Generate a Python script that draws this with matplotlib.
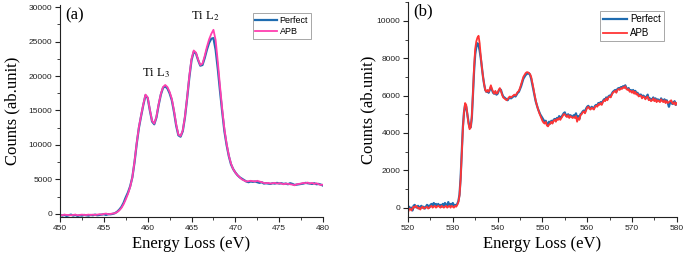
import numpy as np
import matplotlib
matplotlib.use("Agg")
import matplotlib.pyplot as plt
from matplotlib.ticker import MultipleLocator

plt.rcParams['mathtext.fontset'] = 'stix'

# ---------------- Panel (a): Ti L edge ----------------
energy_a = np.arange(450.0, 480.001, 0.25)
perfect_a = [
    -100, -250, -150, -300,   # 450
    -200, -100, -250, -150,   # 451
    -300, -200, -250, -150,   # 452
    -200, -250, -150, -200,   # 453
    -100, -200, -150, -100,   # 454
    -50, -150, -50, -50,      # 455
    0, 100, 300, 600,         # 456
    1000, 1600, 2400, 3100,   # 457
    4000, 5300, 7500, 10200,  # 458
    12500, 14200, 15800, 17200,  # 459
    16800, 15000, 13400, 13000,  # 460
    14000, 15800, 17300, 18300,  # 461
    18500, 18200, 17500, 16500,  # 462
    14800, 12800, 11400, 11200,  # 463
    12000, 14000, 16800, 19800,  # 464
    22300, 23500, 23300, 22300,  # 465
    21500, 21600, 22600, 23800,  # 466
    24800, 25400, 25500, 23800,  # 467
    21000, 17800, 14800, 12000,  # 468
    10000, 8400, 7200, 6500,     # 469
    6000, 5600, 5300, 5100,      # 470
    4900, 4700, 4600, 4700,      # 471
    4650, 4700, 4600, 4500,      # 472
    4600, 4400, 4450, 4400,      # 473
    4350, 4450, 4400, 4500,      # 474
    4400, 4450, 4350, 4400,      # 475
    4300, 4450, 4350, 4200,      # 476
    4250, 4300, 4350, 4400,      # 477
    4500, 4450, 4400, 4350,      # 478
    4450, 4300, 4350, 4250,      # 479
    4100,                        # 480
]
apb_a = [
    -150, -200, -100, -150,   # 450
    -150, -200, -150, -100,   # 451
    -200, -150, -100, -150,   # 452
    -150, -100, -150, -100,   # 453
    -150, -100, -50, -100,    # 454
    0, 50, -50, 0,            # 455
    50, 100, 250, 500,        # 456
    850, 1400, 2100, 2900,    # 457
    3900, 5300, 7600, 10300,  # 458
    12600, 14300, 15900, 17300,  # 459
    16900, 15100, 13500, 13100,  # 460
    14100, 15900, 17400, 18400,  # 461
    18700, 18400, 17700, 16700,  # 462
    15000, 13000, 11500, 11300,  # 463
    12100, 14100, 16900, 20000,  # 464
    22500, 23700, 23400, 22400,  # 465
    21600, 21800, 22900, 24200,  # 466
    25300, 26100, 26700, 25200,  # 467
    22000, 18500, 15200, 12300,  # 468
    10200, 8500, 7300, 6500,     # 469
    6000, 5600, 5300, 5000,      # 470
    4850, 4700, 4750, 4800,      # 471
    4750, 4700, 4800, 4700,      # 472
    4600, 4500, 4450, 4500,      # 473
    4400, 4450, 4500, 4400,      # 474
    4450, 4400, 4300, 4400,      # 475
    4350, 4300, 4250, 4150,      # 476
    4300, 4350, 4400, 4500,      # 477
    4450, 4550, 4400, 4500,      # 478
    4350, 4450, 4300, 4200,      # 479
    4250,                        # 480
]

# ---------------- Panel (b): O K edge ----------------
energy_b = np.arange(520.0, 580.001, 0.25)
perfect_b = [
    -100, 50, -50, 0,         # 520
    -150, 100, 150, 50,       # 521
    0, 100, -50, 50,          # 522
    100, 0, 50, -50,          # 523
    50, 150, 100, 0,          # 524
    150, 200, 100, 250,       # 525
    150, 200, 100, 200,       # 526
    100, 150, 50, 200,        # 527
    100, 250, 150, 100,       # 528
    300, 100, 200, 150,       # 529
    250, 100, 150, 100,       # 530
    200, 350, 700, 1600,      # 531
    3000, 4300, 5100, 5500,   # 532
    5400, 5000, 4600, 4300,   # 533
    4300, 4800, 6000, 7300,   # 534
    8200, 8600, 8800, 8700,   # 535
    8400, 8000, 7500, 7000,   # 536
    6600, 6300, 6200, 6250,   # 537
    6150, 6300, 6450, 6300,   # 538
    6150, 6100, 6200, 6050,   # 539
    6100, 6250, 6350, 6300,   # 540
    6100, 5950, 5900, 5850,   # 541
    5800, 5750, 5850, 5900,   # 542
    5850, 5900, 5950, 6000,   # 543
    5950, 6050, 6150, 6200,   # 544
    6350, 6500, 6700, 6900,   # 545
    7000, 7100, 7150, 7200,   # 546
    7200, 7100, 6900, 6600,   # 547
    6300, 6000, 5700, 5500,   # 548
    5300, 5150, 5000, 4900,   # 549
    4800, 4700, 4600, 4650,   # 550
    4500, 4400, 4600, 4500,   # 551
    4650, 4550, 4700, 4750,   # 552
    4650, 4800, 4750, 4900,   # 553
    4800, 4850, 4950, 5050,   # 554
    5100, 4950, 4900, 5000,   # 555
    4850, 4950, 4900, 4850,   # 556
    4950, 4900, 5050, 4800,   # 557
    4900, 4750, 5000, 5050,   # 558
    5150, 5200, 5100, 5300,   # 559
    5400, 5450, 5350, 5300,   # 560
    5400, 5350, 5300, 5450,   # 561
    5500, 5450, 5600, 5550,   # 562
    5650, 5550, 5700, 5800,   # 563
    5750, 5900, 5800, 5950,   # 564
    6000, 5950, 6100, 6200,   # 565
    6250, 6300, 6200, 6350,   # 566
    6400, 6350, 6450, 6400,   # 567
    6500, 6450, 6550, 6400,   # 568
    6350, 6400, 6250, 6300,   # 569
    6200, 6300, 6150, 6250,   # 570
    6100, 6150, 6000, 6050,   # 571
    6050, 5900, 6000, 5950,   # 572
    5850, 5950, 6050, 5800,   # 573
    5850, 5750, 5800, 5900,   # 574
    5750, 5850, 5700, 5800,   # 575
    5750, 5700, 5850, 5750,   # 576
    5700, 5800, 5650, 5750,   # 577
    5600, 5400, 5650, 5700,   # 578
    5550, 5600, 5700, 5500,   # 579
    5550,                     # 580
]
apb_b = [
    -250, -100, -50, -150,    # 520
    -50, 50, 0, 100,          # 521
    50, -50, 0, -100,         # 522
    0, 50, -50, 0,            # 523
    0, 50, -50, 0,            # 524
    50, 100, 0, 50,           # 525
    100, 0, 50, 100,          # 526
    50, 0, 100, 50,           # 527
    0, 50, 100, 0,            # 528
    50, 100, 0, 100,          # 529
    50, 0, 100, 50,           # 530
    150, 300, 650, 1500,      # 531
    2900, 4200, 5100, 5600,   # 532
    5500, 5000, 4500, 4200,   # 533
    4300, 4900, 6100, 7500,   # 534
    8500, 8900, 9100, 9200,   # 535
    8800, 8100, 7500, 7000,   # 536
    6600, 6300, 6200, 6300,   # 537
    6200, 6350, 6550, 6350,   # 538
    6200, 6100, 6250, 6100,   # 539
    6150, 6300, 6400, 6250,   # 540
    6050, 5900, 5850, 5800,   # 541
    5750, 5800, 5900, 5950,   # 542
    5900, 5950, 6000, 6050,   # 543
    6000, 6100, 6200, 6250,   # 544
    6400, 6600, 6800, 7000,   # 545
    7100, 7200, 7250, 7250,   # 546
    7200, 7150, 7000, 6700,   # 547
    6400, 6050, 5750, 5500,   # 548
    5300, 5100, 4950, 4800,   # 549
    4650, 4550, 4500, 4600,   # 550
    4400, 4350, 4450, 4500,   # 551
    4600, 4500, 4650, 4700,   # 552
    4600, 4750, 4700, 4800,   # 553
    4700, 4800, 4900, 5000,   # 554
    5000, 4900, 4850, 4950,   # 555
    4800, 4900, 4850, 4800,   # 556
    4850, 4800, 4900, 4600,   # 557
    4800, 4700, 4950, 5000,   # 558
    5100, 5150, 5050, 5200,   # 559
    5350, 5400, 5300, 5250,   # 560
    5350, 5300, 5250, 5400,   # 561
    5450, 5400, 5550, 5500,   # 562
    5600, 5500, 5650, 5750,   # 563
    5700, 5850, 5750, 5900,   # 564
    5950, 5900, 6050, 6150,   # 565
    6200, 6250, 6150, 6300,   # 566
    6350, 6300, 6400, 6350,   # 567
    6450, 6400, 6500, 6350,   # 568
    6300, 6350, 6200, 6250,   # 569
    6150, 6250, 6100, 6200,   # 570
    6050, 6100, 5950, 6000,   # 571
    6000, 5850, 5950, 5900,   # 572
    5800, 5900, 5950, 5750,   # 573
    5800, 5700, 5750, 5850,   # 574
    5700, 5800, 5650, 5750,   # 575
    5700, 5650, 5800, 5700,   # 576
    5650, 5750, 5600, 5700,   # 577
    5600, 5650, 5700, 5750,   # 578
    5600, 5550, 5650, 5500,   # 579
    5600,                     # 580
]

series_labels = ["Perfect", "APB"]
panel_tags = ["(a)", "(b)"]

BLUE = "#1f6cb0"
PINK = "#ff3fb0"
RED = "#ff3535"
SANS = "Liberation Sans"
SERIF = "Liberation Serif"

fig = plt.figure(figsize=(6.85, 2.57), dpi=100)
ax1 = fig.add_axes([0.0876, 0.1556, 0.384, 0.825])
ax2 = fig.add_axes([0.5956, 0.1556, 0.3924, 0.836])


def style(ax, xmaj, xmin, ymaj, ymin):
    for s in ("top", "right"):
        ax.spines[s].set_visible(False)
    for s in ("left", "bottom"):
        ax.spines[s].set_linewidth(0.8)
        ax.spines[s].set_color("#222222")
    ax.xaxis.set_major_locator(MultipleLocator(xmaj))
    ax.xaxis.set_minor_locator(MultipleLocator(xmin))
    ax.yaxis.set_major_locator(MultipleLocator(ymaj))
    ax.yaxis.set_minor_locator(MultipleLocator(ymin))
    ax.tick_params(which="major", direction="out", length=3.5, width=0.8,
                   labelsize=6, pad=2, colors="#222222")
    ax.tick_params(which="minor", direction="out", length=2, width=0.6,
                   colors="#222222")
    for lab in ax.get_xticklabels() + ax.get_yticklabels():
        lab.set_fontfamily(SANS)
    ax.set_xlabel("Energy Loss (eV)", fontfamily=SERIF, fontsize=12, labelpad=3)


# Panel (a)
ax1.plot(energy_a, perfect_a, color=BLUE, lw=1.6, label=series_labels[0])
ax1.plot(energy_a, apb_a, color=PINK, lw=1.3, label=series_labels[1])
ax1.set_xlim(450, 480)
ax1.set_ylim(-450, 30300)
style(ax1, 5, 2.5, 5000, 2500)
ax1.set_ylabel("Counts (ab.unit)", fontfamily=SERIF, fontsize=12, labelpad=6)
ax1.text(0.02, 0.99, panel_tags[0], transform=ax1.transAxes, va="top",
         ha="left", fontfamily=SERIF, fontsize=12)
ax1.text(460.9, 20000, r"Ti L$_{3}$", ha="center", va="baseline",
         fontfamily=SERIF, fontsize=9)
ax1.text(466.6, 28250, r"Ti L$_{2}$", ha="center", va="baseline",
         fontfamily=SERIF, fontsize=9)
leg1 = ax1.legend(loc="upper right", bbox_to_anchor=(0.954, 0.962),
                  prop={"family": SANS, "size": 6.5}, frameon=True,
                  fancybox=False, edgecolor="#999999", framealpha=1,
                  handlelength=2.4, handletextpad=0.3, borderpad=0.3,
                  labelspacing=0.3, borderaxespad=0)
leg1.get_frame().set_linewidth(0.6)

# Panel (b)
ax2.plot(energy_b, perfect_b, color=BLUE, lw=1.6, label=series_labels[0])
ax2.plot(energy_b, apb_b, color=RED, lw=1.3, label=series_labels[1])
ax2.set_xlim(520, 580)
ax2.set_ylim(-500, 11000)
style(ax2, 10, 5, 2000, 1000)
ax2.set_ylabel("Counts (ab.unit)", fontfamily=SERIF, fontsize=12, labelpad=0.5)
ax2.text(0.02, 0.995, panel_tags[1], transform=ax2.transAxes, va="top",
         ha="left", fontfamily=SERIF, fontsize=12)
leg2 = ax2.legend(loc="upper right", bbox_to_anchor=(0.952, 0.958),
                  prop={"family": SANS, "size": 7}, frameon=True,
                  fancybox=False, edgecolor="#999999", framealpha=1,
                  handlelength=2.5, handletextpad=0.3, borderpad=0.3,
                  labelspacing=0.4, borderaxespad=0)
leg2.get_frame().set_linewidth(0.6)

fig.savefig("out.png", dpi=100)
